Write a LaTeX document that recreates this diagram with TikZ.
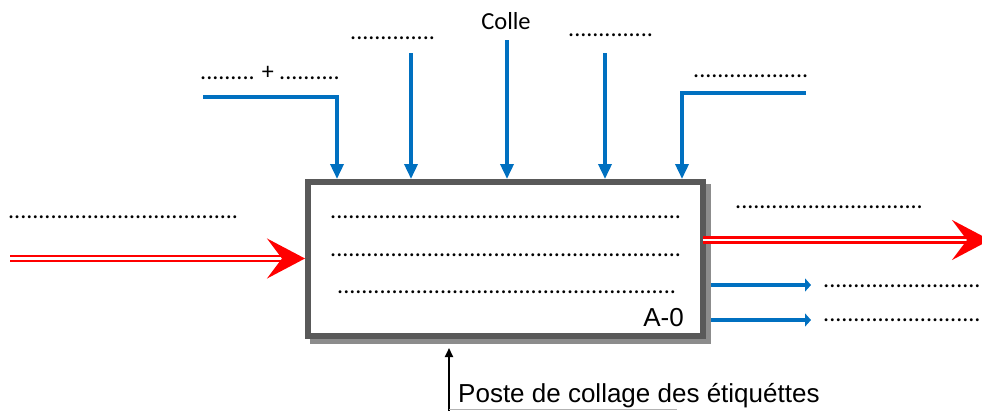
\documentclass[tikz,border=0pt]{standalone}
\usepackage{fontspec}
\setmainfont{Liberation Sans}
\newfontfamily\calib{Carlito}
\usetikzlibrary{arrows.meta,shadows}

\definecolor{flowblue}{HTML}{0070C0}
\definecolor{boxgray}{HTML}{595959}
\definecolor{shadegray}{HTML}{8C8C8C}

% a row of n dots to be filled in later
\newcommand{\dotrow}[1]{\foreach \k in {1,...,#1}{.}}

\begin{document}
\begin{tikzpicture}[x=1pt,y=-1pt]

    \useasboundingbox (0,0) rectangle (982,410);
    \clip (0,0) rectangle (982,410);

    \tikzstyle{activity}=[rectangle, draw=boxgray, fill=white, line width=6pt,
                          minimum width=395pt, minimum height=154pt,
                          general shadow={shadow xshift=5pt, shadow yshift=-5pt,
                                          fill=shadegray, draw=shadegray, line width=6pt}]
    \tikzstyle{note}=[inner sep=0pt, anchor=base west, font=\calib\fontsize{24}{28}\selectfont]
    \tikzstyle{bigtext}=[inner sep=0pt, font=\fontsize{26}{31}\selectfont]
    \tikzstyle{control}=[draw=flowblue, line width=3.5pt, -{Triangle[length=15pt,width=13pt]}]
    \tikzstyle{output}=[draw=flowblue, line width=3.5pt, -{Triangle[length=6pt,width=13pt]}]
    \tikzstyle{flow}=[draw=red, double=white, line width=2.5pt, double distance=2.5pt,
                      -{Stealth[length=38pt,width=40pt,inset=15pt]}]
    \tikzstyle{mech}=[draw=black, line width=2pt, -{Triangle[length=9pt,width=8pt]}]

    % the activity box
    \node[activity] (act) at (505.5,259) {};
    \node[note] (l1) at (330,218) {\dotrow{58}};
    \node[note] (l2) at (330,256) {\dotrow{58}};
    \node[note] (l3) at (337,293) {\dotrow{56}};
    \node[bigtext, anchor=base east] (ref) at (684,326) {A-0};

    % controls from above
    \node[note] (t1) at (200,79) {\dotrow{9} + \dotrow{10}};
    \node[note] (t2) at (350,39) {\dotrow{14}};
    \node[note, anchor=base, font=\calib\fontsize{24.5}{28}\selectfont] (t3) at (506,29) {Colle};
    \node[note] (t4) at (568,36) {\dotrow{14}};
    \node[note] (t5) at (693,77) {\dotrow{19}};

    \coordinate (k1s) at (203,97);
    \coordinate (k1)  at (337,97);
    \coordinate (k2)  at (411,53);
    \coordinate (k3)  at (507,40);
    \coordinate (k4)  at (605,53);
    \coordinate (k5s) at (806,93);
    \coordinate (k5)  at (682,93);

    \draw[control] (k1s) -- (k1) -- (k1 |- act.north);
    \draw[control] (k2) -- (k2 |- act.north);
    \draw[control] (k3) -- (k3 |- act.north);
    \draw[control] (k4) -- (k4 |- act.north);
    \draw[control] (k5s) -- (k5) -- (k5 |- act.north);

    % input
    \node[note] (i1) at (8,218) {\dotrow{38}};
    \coordinate (in) at (10,258.5);
    \draw[flow] (in) -- (in -| act.west);

    % outputs
    \node[note] (o0) at (735,208) {\dotrow{31}};
    \coordinate (out) at (990,240);
    \draw[flow] ([xshift=-3pt]act.east |- out) -- (out);

    \coordinate (o1) at (811,285);
    \coordinate (o2) at (811,320);
    \coordinate (shadowedge) at ([xshift=5pt]act.east);
    \draw[output] (shadowedge |- o1) -- (o1);
    \draw[output] (shadowedge |- o2) -- (o2);
    \node[note] (n1) at (823,287) {\dotrow{26}};
    \node[note] (n2) at (823,321) {\dotrow{26}};

    % mechanism
    \coordinate (m) at (449,412);
    \coordinate (mtop) at ([yshift=-9pt]act.south);
    \draw[mech] (m) -- (m |- mtop);
    \node[bigtext, anchor=base west] (post) at (458,402.5) {Poste de collage des étiquéttes};
    \draw[black!30, line width=1pt] (449,409.5) -- (677,409.5);

\end{tikzpicture}
\end{document}
